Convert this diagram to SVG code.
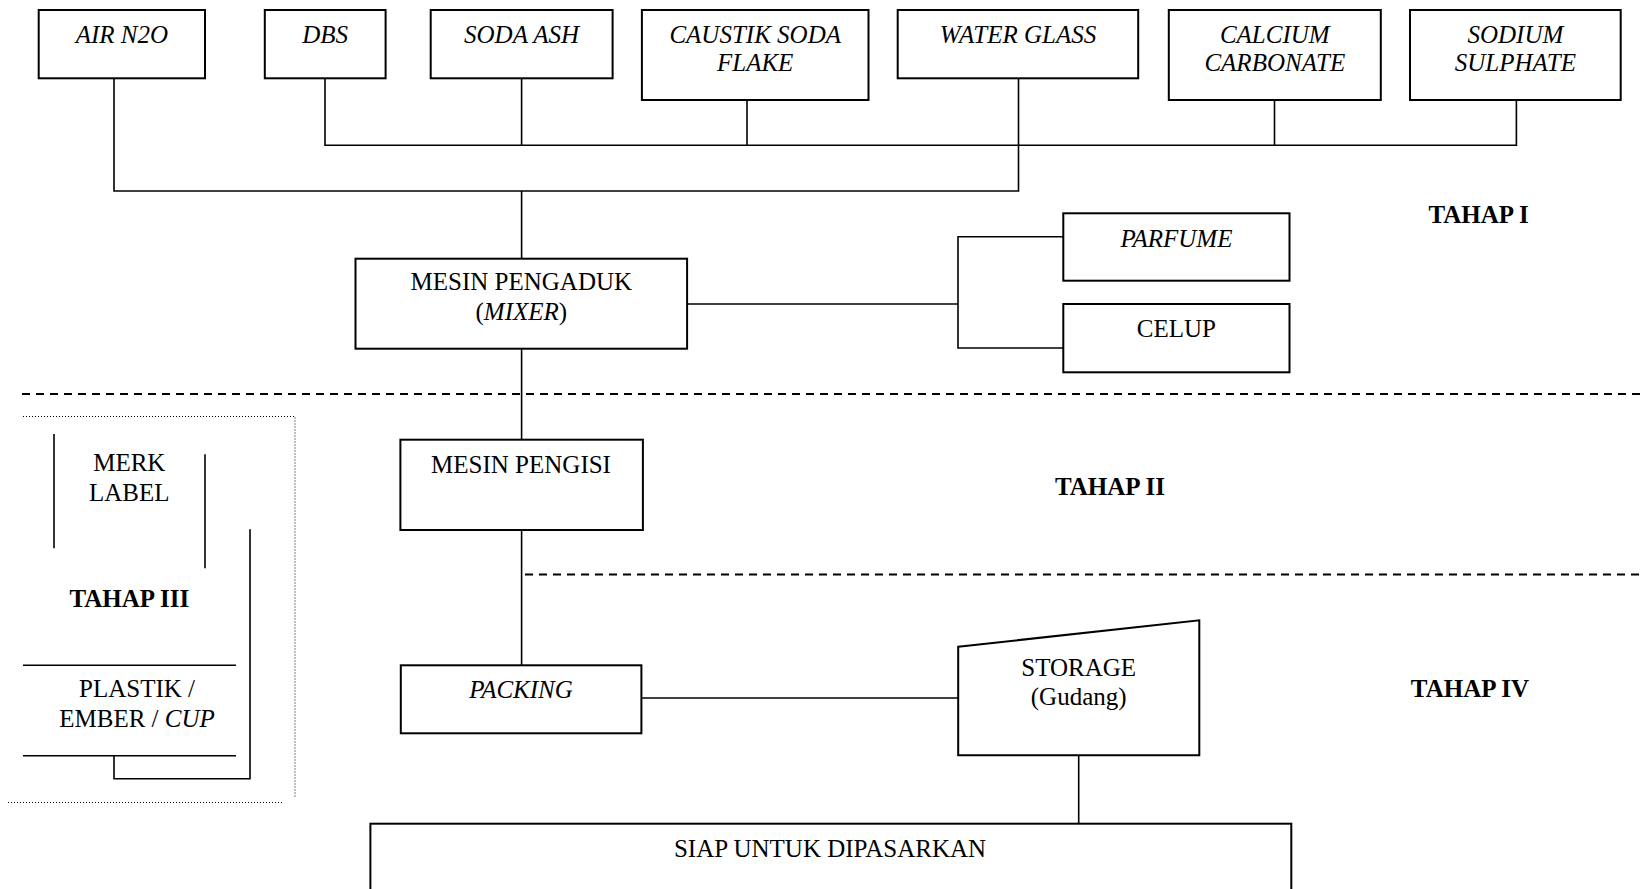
<svg xmlns="http://www.w3.org/2000/svg" width="1642" height="889" viewBox="0 0 1642 889">
<style>
.box{fill:#fff;stroke:#000;stroke-width:2}
.ln{fill:none;stroke:#000;stroke-width:1.6}
.dash{fill:none;stroke:#000;stroke-width:1.8;stroke-dasharray:8 6}
.dot{fill:none;stroke:#000;stroke-width:1;stroke-dasharray:1 2}
text{font-family:"Liberation Serif","Times New Roman",serif;font-size:25px;fill:#000;text-anchor:middle}
.it{font-style:italic}
.b{font-weight:bold}
</style>
<rect width="1642" height="889" fill="#fff"/>
<g id="connectors">
<polyline class="ln" points="114,78 114,191 1018.5,191 1018.5,78"/>
<polyline class="ln" points="325,78 325,145.3 1516.4,145.3 1516.4,100"/>
<line class="ln" x1="521.6" y1="78" x2="521.6" y2="145.3"/>
<line class="ln" x1="747" y1="100" x2="747" y2="145.3"/>
<line class="ln" x1="1274.5" y1="100" x2="1274.5" y2="145.3"/>
<line class="ln" x1="521.6" y1="191" x2="521.6" y2="258.7"/>
<line class="ln" x1="687" y1="304" x2="958" y2="304"/>
<polyline class="ln" points="1063.3,236.7 958,236.7 958,348 1063.3,348"/>
<line class="ln" x1="521.6" y1="348.7" x2="521.6" y2="439.7"/>
<line class="ln" x1="521.6" y1="530" x2="521.6" y2="665.3"/>
<line class="ln" x1="641.4" y1="698" x2="958.2" y2="698"/>
<line class="ln" x1="1078.7" y1="755.3" x2="1078.7" y2="823.7"/>
<line class="dash" x1="22" y1="394" x2="1640" y2="394"/>
<line class="dash" x1="525" y1="574.5" x2="1640" y2="574.5"/>
<polyline class="dot" points="23,416.5 295,416.5 295,797"/>
<line class="dot" x1="8" y1="802.5" x2="283" y2="802.5"/>
<line class="ln" x1="54" y1="434" x2="54" y2="548.3"/>
<line class="ln" x1="205" y1="454.3" x2="205" y2="568.3"/>
<polyline class="ln" points="250,529.3 250,778.7 114,778.7 114,755.7"/>
<line class="ln" x1="23" y1="665.3" x2="236" y2="665.3"/>
<line class="ln" x1="23" y1="755.7" x2="236" y2="755.7"/>
</g>
<g id="air"><rect class="box" x="38.7" y="10" width="166.3" height="68.3"/><text class="it" x="121.9" y="43.3">AIR N2O</text></g>
<g id="dbs"><rect class="box" x="264.8" y="10" width="120.8" height="68.3"/><text class="it" x="325.2" y="43.3">DBS</text></g>
<g id="soda-ash"><rect class="box" x="430.7" y="10" width="181.9" height="68.3"/><text class="it" x="521.6" y="43.3">SODA ASH</text></g>
<g id="caustik"><rect class="box" x="641.9" y="10" width="226.6" height="90"/><text class="it" x="755.2" y="43.3">CAUSTIK SODA</text><text class="it" x="755.2" y="70.7">FLAKE</text></g>
<g id="water-glass"><rect class="box" x="897.7" y="10" width="240.5" height="68.3"/><text class="it" x="1018" y="43.3">WATER GLASS</text></g>
<g id="calcium"><rect class="box" x="1168.8" y="10" width="212" height="90"/><text class="it" x="1274.8" y="43.3">CALCIUM</text><text class="it" x="1274.8" y="70.7">CARBONATE</text></g>
<g id="sodium"><rect class="box" x="1410" y="10" width="210.7" height="90"/><text class="it" x="1515.4" y="43.3">SODIUM</text><text class="it" x="1515.4" y="70.7">SULPHATE</text></g>
<g id="mixer"><rect class="box" x="355.5" y="258.7" width="331.6" height="90"/><text x="521.3" y="290">MESIN PENGADUK</text><text x="521.3" y="320">(<tspan class="it">MIXER</tspan>)</text></g>
<g id="parfume"><rect class="box" x="1063.3" y="213.3" width="226.2" height="67.4"/><text class="it" x="1176.4" y="246.7">PARFUME</text></g>
<g id="celup"><rect class="box" x="1063.3" y="304" width="226.2" height="68.3"/><text x="1176.4" y="336.7">CELUP</text></g>
<g id="tahap1"><text class="b" x="1478.5" y="222.7">TAHAP I</text></g>
<g id="pengisi"><rect class="box" x="400.4" y="439.7" width="242.5" height="90.3"/><text x="521" y="472.7">MESIN PENGISI</text></g>
<g id="tahap2"><text class="b" x="1110" y="495">TAHAP II</text></g>
<g id="merk"><text x="129.3" y="471">MERK</text><text x="129.3" y="501">LABEL</text></g>
<g id="tahap3"><text class="b" x="129.3" y="607.3">TAHAP III</text></g>
<g id="plastik"><text x="137" y="696.7">PLASTIK /</text><text x="137" y="726.7">EMBER / <tspan class="it">CUP</tspan></text></g>
<g id="packing"><rect class="box" x="400.8" y="665.3" width="240.6" height="68"/><text class="it" x="521" y="698.3">PACKING</text></g>
<g id="storage"><polygon class="box" points="958.2,646.7 1199.3,620.3 1199.3,755.3 958.2,755.3"/><text x="1078.7" y="675.7">STORAGE</text><text x="1078.7" y="704.5">(Gudang)</text></g>
<g id="tahap4"><text class="b" x="1470" y="697.3">TAHAP IV</text></g>
<g id="siap"><rect class="box" x="370.4" y="823.7" width="920.9" height="80"/><text x="830" y="856.7">SIAP UNTUK DIPASARKAN</text></g>
</svg>
